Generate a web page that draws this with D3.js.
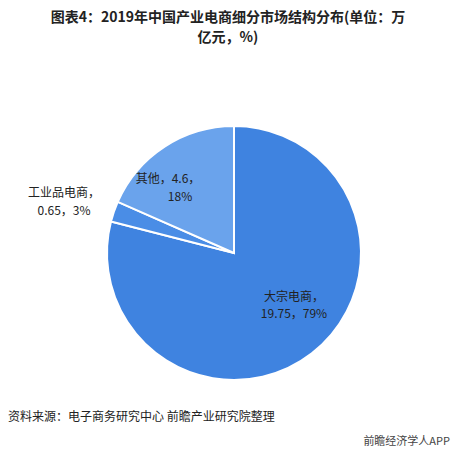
<!DOCTYPE html><html><head><meta charset="utf-8"><script src="https://cdn.jsdelivr.net/npm/d3@7"></script>
<style>body{margin:0;background:#fff}svg{font-family:"Noto Sans CJK SC","Microsoft YaHei",sans-serif}</style></head><body><svg id="c" width="456" height="452"></svg><script>
const categories=["大宗电商","工业品电商","其他"];
const values=[19.75,0.65,4.6];
const percents=["79%","3%","18%"];
const valueLabels=["19.75","0.65","4.6"];
const colors=["#3f83e0","#4a8de6","#6aa3ec"];
const svg=d3.select("#c");
svg.append("text").attr("x",228).attr("y",22).attr("text-anchor","middle").attr("font-size",14).attr("font-weight","bold").attr("fill","#222").text("图表4：2019年中国产业电商细分市场结构分布(单位：万");
svg.append("text").attr("x",228).attr("y",42).attr("text-anchor","middle").attr("font-size",14).attr("font-weight","bold").attr("fill","#222").text("亿元，%)");
const cx=234,cy=253,r=127;
const pie=d3.pie().sort(null)(values);
const arc=d3.arc().innerRadius(0).outerRadius(r);
const g=svg.append("g").attr("transform",`translate(${cx},${cy})`);
g.selectAll("path").data(pie).join("path").attr("d",arc).attr("fill",(d,i)=>colors[i]).attr("stroke","#fff").attr("stroke-width",2);
const lab=[[{x:294,y:301},{x:294,y:318}],[{x:64,y:197},{x:64,y:215}],[{x:168,y:183},{x:180,y:201}]];
const anchors=["middle","middle","middle"];
pie.forEach((d,i)=>{
 const l1=i==0?categories[i]+"，":categories[i]+"，"+(i==2?valueLabels[i]+"，":"");
 const l2=i==0?valueLabels[i]+"，"+percents[i]:(i==1?valueLabels[i]+"，"+percents[i]:percents[i]);
 svg.append("text").attr("x",lab[i][0].x).attr("y",lab[i][0].y).attr("text-anchor","middle").attr("font-size",12).attr("fill","#222").text(l1);
 svg.append("text").attr("x",lab[i][1].x).attr("y",lab[i][1].y).attr("text-anchor","middle").attr("font-size",12).attr("fill","#222").text(l2);
});
svg.append("text").attr("x",8).attr("y",421).attr("font-size",12).attr("fill","#222").text("资料来源：电子商务研究中心 前瞻产业研究院整理");
svg.append("text").attr("x",450).attr("y",445).attr("text-anchor","end").attr("font-size",11).attr("fill","#444").text("前瞻经济学人APP");
</script></body></html>
